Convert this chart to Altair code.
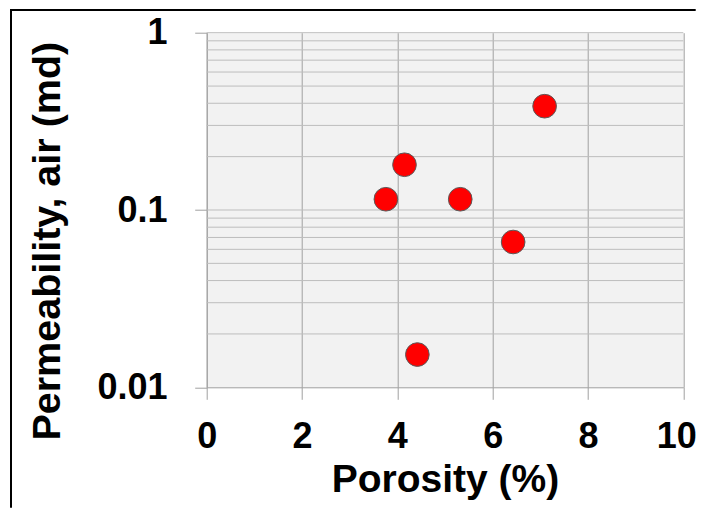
import altair as alt
import pandas as pd

porosity = [3.76, 4.15, 5.32, 6.43, 7.09, 4.42]
permeability = [0.115, 0.18, 0.115, 0.066, 0.385, 0.0153]

x_ticks = [0, 2, 4, 6, 8, 10]
y_ticks = [0.01, 0.1, 1]
y_grid = [0.02, 0.03, 0.04, 0.05, 0.06, 0.07, 0.08, 0.09,
          0.1, 0.2, 0.3, 0.4, 0.5, 0.6, 0.7, 0.8, 0.9, 1]

FONT = "Liberation Sans"
W, H = 476.6, 354.6

pts = pd.DataFrame({"phi": porosity, "k": permeability})
grid = pd.DataFrame({"g": y_grid})
one = alt.Data(values=[{"a": 1}])

xscale = alt.Scale(domain=[0, 10], nice=False)
yscale = alt.Scale(type="log", domain=[0.01, 1], nice=False)

frame_left = alt.Chart(one).mark_rule(color="black", strokeWidth=2).encode(
    x=alt.value(-195.7), y=alt.value(-23.7), y2=alt.value(475)
)
frame_top = alt.Chart(one).mark_rule(color="black", strokeWidth=2).encode(
    x=alt.value(-196.7), x2=alt.value(489), y=alt.value(-22.7)
)

hgrid = alt.Chart(grid).mark_rule(color="#bdbdbd", strokeWidth=1).encode(
    y=alt.Y("g:Q", scale=yscale)
)

points = alt.Chart(pts).mark_circle(
    size=560, color="#ff0000", stroke="#5a5a5a", strokeWidth=1, opacity=1
).encode(
    x=alt.X("phi:Q", scale=xscale, axis=alt.Axis(
        values=x_ticks, title="Porosity (%)", grid=True, gridColor="#a0a0a0",
        domainColor="#a0a0a0", tickColor="#a0a0a0", tickSize=12,
        labelFont=FONT, labelFontSize=36, labelFontWeight="bold", labelColor="black",
        labelBaseline="alphabetic", labelPadding=48.4, labelFlush=False,
        labelOffset={"condition": {"test": "datum.value == 10", "value": -7}, "value": 0},
        titleFont=FONT, titleFontSize=39, titleFontWeight="bold", titleColor="black",
        titleBaseline="alphabetic", titleY=104.4,
    )),
    y=alt.Y("k:Q", scale=yscale, axis=alt.Axis(
        values=y_ticks, format="~g", title="Permeability, air (md)", grid=False,
        domainColor="#a0a0a0", tickColor="#a0a0a0", tickSize=12,
        labelFont=FONT, labelFontSize=36, labelFontWeight="bold", labelColor="black",
        labelPadding=27.7, labelBaseline="middle", labelFlush=False,
        titleFont=FONT, titleFontSize=39.5, titleFontWeight="bold", titleColor="black",
        titleAngle=270, titleBaseline="alphabetic", titleAlign="center",
        titleX=-147.5, titleY=208,
    )),
)

chart = alt.layer(frame_left, frame_top, hgrid, points).properties(
    width=W, height=H,
    autosize=alt.AutoSizeParams(type="none"),
    padding={"left": 198.7, "top": 24.7, "right": 12.7, "bottom": 120.7},
    background="white",
).configure_view(fill="#f2f2f2", stroke="transparent")

chart.save("out.html", embed_options={"renderer": "svg", "actions": False})
